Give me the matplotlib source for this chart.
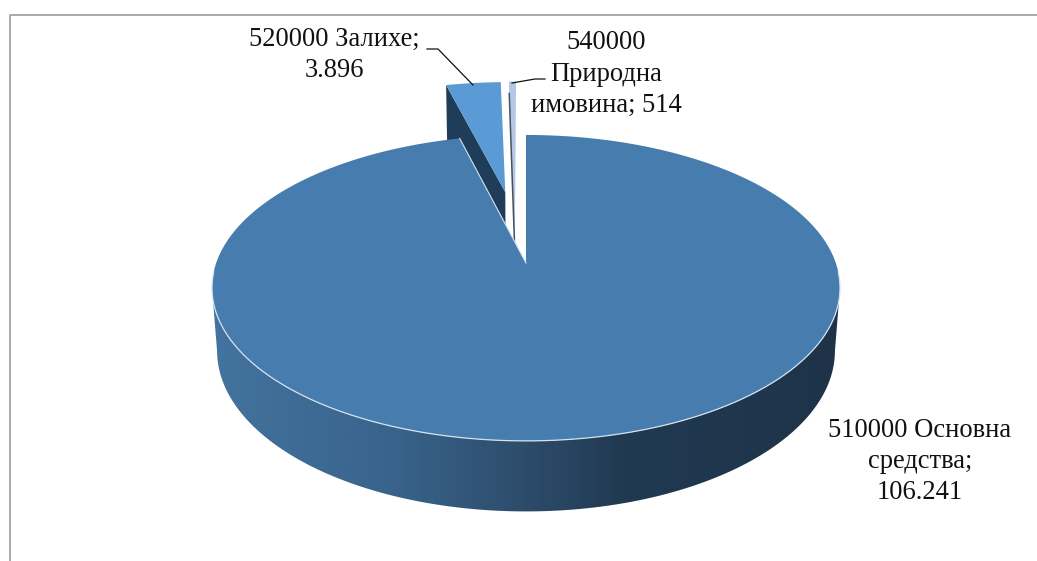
import numpy as np
import matplotlib
matplotlib.use('Agg')
import matplotlib.pyplot as plt
from matplotlib.colors import LinearSegmentedColormap
from matplotlib.patches import Polygon

plt.rcParams['font.family'] = ['Liberation Serif', 'DejaVu Serif']

labels = ['510000 Основна\nсредства;\n106.241', '520000 Залихе;\n3.896', '540000\nПриродна\nимовина; 514']
values = [106241, 3896, 514]
top_colors = ['#467cae', '#5b9bd5', '#b4c7e7']
wall_color = '#1f3d59'
sliver_color = '#46525e'
wall_stops = [(0, '#43739f'), (0.3, '#38628a'), (0.5, '#2d4c6b'), (0.65, '#213a52'), (1, '#1e3348')]

# projection of the pie plane
cx, cy = 526, 263
a, b, k = 309.8, 148.9, 0.163
depth, back_depth, shrink = 63, 69, 0.016


def project(x, y, drop=None):
    w = 1 + k * y
    if drop is not None:
        return cx + a * x / (w + shrink), cy + (drop - b * y) / (w + shrink)
    return cx + a * x / w, cy - b * y / w


def outline(start, end, ox=0.0, oy=0.0, drop=None):
    # angles are clockwise from twelve o'clock, in degrees
    t = np.radians(np.linspace(start, end, 400))
    return np.column_stack(project(ox + np.sin(t), oy + np.cos(t), drop))


fig = plt.figure(figsize=(10.37, 5.61), dpi=100)
ax = fig.add_axes([0, 0, 1, 1])

spans = np.array(values) / sum(values) * 360
main_end = spans[0]
second_end = main_end + spans[1]

# exploded small slices go first, the big one covers their lower ends
explode = 0.52
mid = np.radians((main_end + second_end) / 2)
ox2, oy2 = explode * np.sin(mid), explode * np.cos(mid)
ox3, oy3 = -0.04, 0.52

apex = np.array(project(ox2, oy2))
apex_low = np.array(project(ox2, oy2, back_depth))
t = np.radians(main_end)
rim = np.array(project(ox2 + np.sin(t), oy2 + np.cos(t)))
rim_low = np.array(project(ox2 + np.sin(t), oy2 + np.cos(t), back_depth))
ax.add_patch(Polygon([apex, rim, rim_low, apex_low], fc=wall_color, ec='none', zorder=1))
ax.add_patch(Polygon(np.vstack([apex, outline(main_end, second_end, ox2, oy2)]),
                     fc=top_colors[1], ec='none', zorder=2))

# the thin slice is so narrow that its wall only shows as a dark sliver on the left edge
apex3 = np.array(project(ox3, oy3, depth))
thin_rim = outline(second_end, 360, ox3, oy3)
ax.add_patch(Polygon(np.vstack([apex3, thin_rim]), fc=top_colors[2], ec='none', zorder=2))
sliver_start = thin_rim[0] + 0.07 * (apex3 - thin_rim[0])
ax.plot([sliver_start[0], apex3[0]], [sliver_start[1], apex3[1]], color=sliver_color, lw=1.1, zorder=2.5)

# side wall of the big slice, starts where the rim is widest
widest = np.degrees(np.arccos(-k))
upper = outline(widest, 360 - widest)
lower = outline(widest, 360 - widest, drop=depth)
wall = Polygon(np.vstack([upper, lower[::-1]]), fc='none', ec='none', transform=ax.transData)
ax.add_patch(wall)
cmap = LinearSegmentedColormap.from_list('wall', wall_stops)
shade = np.linspace(0, 1, 512).reshape(1, -1)
img = ax.imshow(shade, cmap=cmap, extent=(212, 840, 520, 280), aspect='auto', zorder=3)
img.set_clip_path(wall)

# top face of the big slice, with the light rim along the front and the cut
top = np.vstack([[cx, cy], outline(0, main_end)])
ax.add_patch(Polygon(top, fc=top_colors[0], ec='none', zorder=4))
rim_line = outline(widest - 6, 360 - widest + 6)
ax.plot(rim_line[:, 0], rim_line[:, 1], color='#d5e3f0', lw=0.9, zorder=5)
cut = np.vstack([outline(main_end, main_end)[0], [cx, cy]])
ax.plot(cut[:, 0], cut[:, 1], color='#d5e3f0', lw=0.8, zorder=5)

# frame, open on the right and at the bottom
ax.plot([9.5, 9.5, 1037], [561, 14.5, 14.5], color='#a3a3a3', lw=1.3, zorder=5)

# leader lines
ax.plot([427, 438, 473], [49, 49, 85], color='#111111', lw=0.9, zorder=6)
ax.plot([545, 535, 512], [79, 79, 83], color='#111111', lw=0.9, zorder=6)

text_style = dict(ha='center', va='center', fontsize=19.1, linespacing=1.34, color='#111111', zorder=7)
ax.text(920, 461.5, labels[0], **text_style)
ax.text(334, 55, labels[1], **text_style)
ax.text(606, 74, labels[2], **text_style)

ax.set_xlim(0, 1037)
ax.set_ylim(561, 0)
ax.axis('off')
fig.savefig('out.png', dpi=100, facecolor='white')
